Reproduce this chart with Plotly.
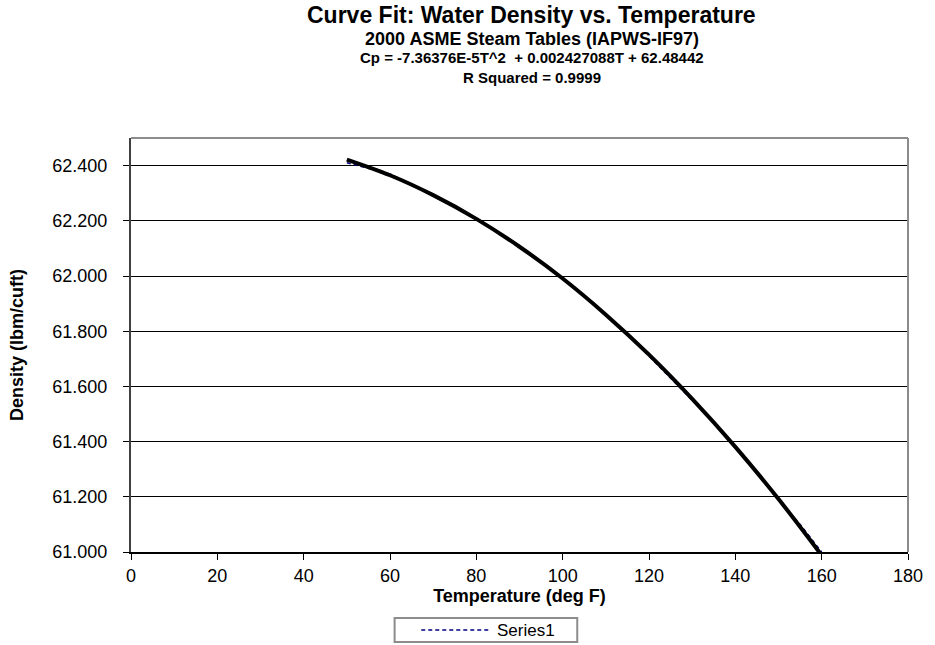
import plotly.graph_objects as go

# Series1: water density data (deg F, lbm/cuft)
temps = [50, 55, 60, 65, 70, 75, 80, 85, 90, 95, 100, 105, 110, 115, 120,
         125, 130, 135, 140, 145, 150, 155, 160]
density = [62.41, 62.39, 62.37, 62.33, 62.29, 62.25, 62.21, 62.16, 62.11, 62.05,
           61.99, 61.93, 61.86, 61.79, 61.71, 61.63, 61.55, 61.47, 61.38, 61.29,
           61.19, 61.10, 61.00]

# Polynomial trendline values
trend_t = [50, 60, 70, 80, 90, 100, 110, 120, 130, 140, 150, 160]
trend_rho = [62.422, 62.365, 62.293, 62.207, 62.106, 61.991, 61.860, 61.715,
             61.555, 61.381, 61.192, 60.988]

x_ticks = [0, 20, 40, 60, 80, 100, 120, 140, 160, 180]
y_ticks = [61.0, 61.2, 61.4, 61.6, 61.8, 62.0, 62.2, 62.4]

title_lines = [
    ("Curve Fit: Water Density vs. Temperature", 23),
    ("2000 ASME Steam Tables (IAPWS-IF97)", 18),
    ("Cp = -7.36376E-5T^2  + 0.002427088T + 62.48442", 15),
    ("R Squared = 0.9999", 15),
]
title_ypix = [14.5, 38.5, 57.5, 77]

FONT = "Liberation Sans, Arial, sans-serif"
PL, PR, PT, PB = 131, 918, 138, 552   # plot area in pixels
PW, PH = PR - PL, PB - PT


def px(x):
    return (x - PL) / PW


def py(y):
    return (PB - y) / PH


fig = go.Figure()
fig.add_trace(go.Scatter(x=temps, y=density, mode="lines", name="Series1",
                         line=dict(color="#000080", width=1.5, dash="4px,3px"),
                         showlegend=False, hoverinfo="skip"))
fig.add_trace(go.Scatter(x=trend_t, y=trend_rho, mode="lines", name="Poly. (Series1)",
                         line=dict(color="black", width=4, shape="spline"),
                         showlegend=False, hoverinfo="skip"))

annotations = []
for (txt, sz), yy in zip(title_lines, title_ypix):
    annotations.append(dict(text="<b>%s</b>" % txt, x=px(537), y=py(yy),
                            xref="paper", yref="paper", borderpad=0,
                            showarrow=False, xanchor="center", yanchor="middle",
                            font=dict(family=FONT, size=sz, color="black")))
# legend text
annotations.append(dict(text="Series1", x=px(501), y=py(630),
                        xref="paper", yref="paper", showarrow=False,
                        xanchor="left", yanchor="middle", borderpad=0,
                        font=dict(family=FONT, size=17, color="black")))

shapes = [
    # top and right borders of plot area
    dict(type="line", xref="paper", yref="paper", x0=0, x1=1, y0=1, y1=1,
         line=dict(color="#8c8c8c", width=2)),
    dict(type="line", xref="paper", yref="paper", x0=1, x1=1, y0=0, y1=1,
         line=dict(color="#8c8c8c", width=2)),
    # legend box
    dict(type="rect", xref="paper", yref="paper",
         x0=px(398), x1=px(583), y0=py(618), y1=py(642),
         line=dict(color="#8c8c8c", width=2), fillcolor="white"),
    # legend sample line
    dict(type="line", xref="paper", yref="paper",
         x0=px(425), x1=px(493), y0=py(630), y1=py(630),
         line=dict(color="#000080", width=1.5, dash="4px,3px")),
]

fig.update_layout(
    width=935, height=645,
    margin=dict(l=PL, r=935 - PR, t=PT, b=645 - PB, pad=0),
    paper_bgcolor="white", plot_bgcolor="white",
    font=dict(family=FONT, size=18, color="black"),
    annotations=annotations, shapes=shapes,
    hovermode=False,
    xaxis=dict(range=[0, 180], tickvals=x_ticks, ticks="outside", ticklen=6,
               tickcolor="black", showgrid=False, zeroline=False,
               showline=True, linecolor="black", linewidth=1.5,
               tickfont=dict(size=18), ticklabelstandoff=1,
               title=dict(text="<b>Temperature (deg F)</b>", font=dict(size=18), standoff=2)),
    yaxis=dict(range=[61.0, 62.5], tickvals=y_ticks, tickformat=".3f",
               ticks="outside", ticklen=6, tickcolor="black",
               showgrid=True, gridcolor="black", gridwidth=1, zeroline=False,
               showline=True, linecolor="#404040", linewidth=2,
               tickfont=dict(size=18), ticklabelstandoff=12,
               title=dict(text="<b>Density (lbm/cuft)</b>", font=dict(size=18), standoff=24)),
    showlegend=False,
)

fig.write_html("out.html", config={"displayModeBar": False},
               post_script="document.body.style.margin='0px';")
